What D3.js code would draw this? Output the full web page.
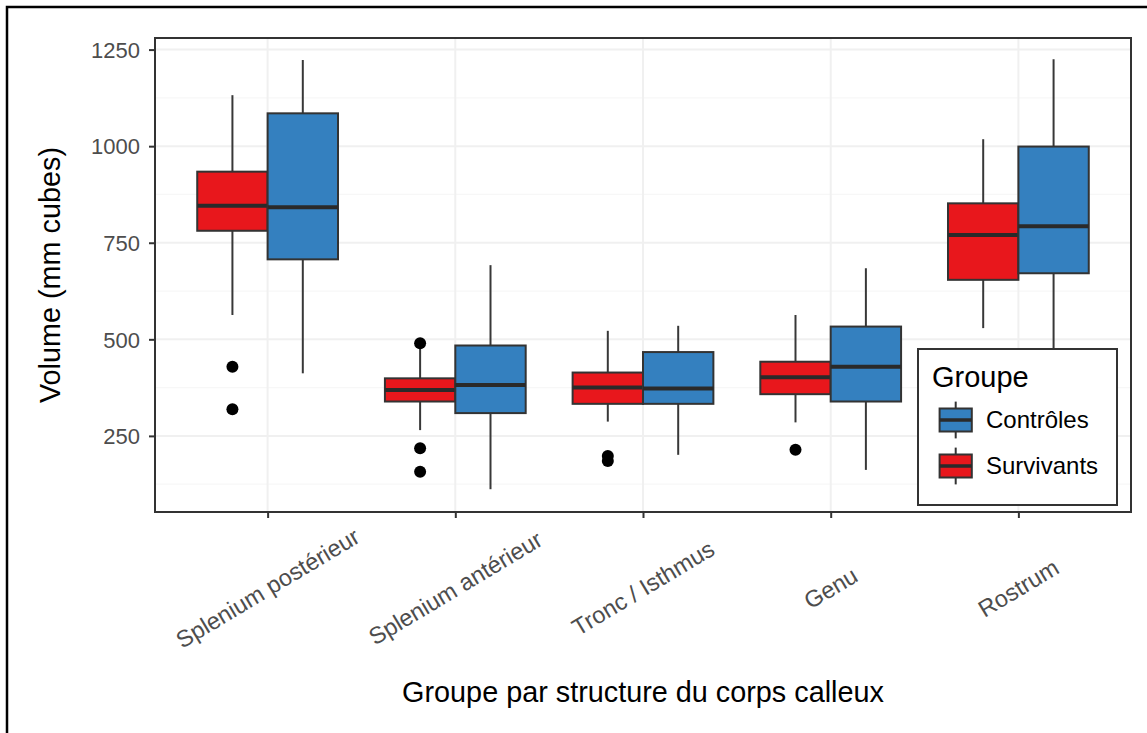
<!DOCTYPE html>
<html>
<head>
<meta charset="utf-8">
<script src="https://cdn.jsdelivr.net/npm/d3@7"></script>
<style>
  html, body { margin: 0; padding: 0; background: #ffffff; }
  svg { display: block; }
  text { font-family: "Liberation Sans", Arial, Helvetica, sans-serif; }
</style>
</head>
<body>
<svg id="chart" width="1147" height="733"></svg>
<script>
// Corpus callosum structures on the x axis
const categories = ["Splenium postérieur", "Splenium antérieur", "Tronc / Isthmus", "Genu", "Rostrum"];
const groups = ["Survivants", "Contrôles"];
const legendOrder = ["Contrôles", "Survivants"];

// Box statistics, Survivants group (mm³)
const survLow  = [563, 265, 287, 285, 529];
const survQ1   = [781, 339, 333, 358, 654];
const survMed  = [846, 369, 375, 402, 770];
const survQ3   = [934, 399, 414, 442, 852];
const survHigh = [1132, 478, 522, 563, 1018];
const survOut  = [[429, 319], [490, 218, 157], [198, 185], [214], []];

// Box statistics, Contrôles group (mm³)
const ctrlLow  = [412, 112, 201, 162, 380];
const ctrlQ1   = [707, 309, 333, 339, 671];
const ctrlMed  = [842, 382, 373, 429, 793];
const ctrlQ3   = [1085, 484, 467, 533, 999];
const ctrlHigh = [1223, 692, 535, 684, 1225];
const ctrlOut  = [[], [], [], [], []];

const yTicks = [250, 500, 750, 1000, 1250];
const yMinor = [125, 375, 625, 875, 1125];
const yDomain = [53, 1280];

const colors = { "Survivants": "#e8171c", "Contrôles": "#3480bf" };

const stats = {
  "Survivants": { low: survLow, q1: survQ1, med: survMed, q3: survQ3, high: survHigh, out: survOut },
  "Contrôles": { low: ctrlLow, q1: ctrlQ1, med: ctrlMed, q3: ctrlQ3, high: ctrlHigh, out: ctrlOut }
};

const boxes = [];
categories.forEach((c, i) => {
  groups.forEach(g => {
    const s = stats[g];
    boxes.push({ cat: c, group: g, low: s.low[i], q1: s.q1[i], med: s.med[i], q3: s.q3[i], high: s.high[i], out: s.out[i] });
  });
});

const svg = d3.select("#chart");
const panel = { left: 155, top: 38, right: 1131, bottom: 512 };

// outer frame
svg.append("rect")
  .attr("x", 7).attr("y", 7).attr("width", 1160).attr("height", 760)
  .attr("fill", "none").attr("stroke", "#000").attr("stroke-width", 2.5);

const x = d3.scalePoint().domain(categories).range([panel.left, panel.right]).padding(0.6);
const step = x.step();
const xg = d3.scaleBand().domain(groups).range([-0.375 * step, 0.375 * step]).padding(0);
const y = d3.scaleLinear().domain(yDomain).range([panel.bottom, panel.top]);

const g = svg.append("g");

// panel background
g.append("rect")
  .attr("x", panel.left).attr("y", panel.top)
  .attr("width", panel.right - panel.left).attr("height", panel.bottom - panel.top)
  .attr("fill", "#fff");

// grid lines
g.selectAll(".gminor").data(yMinor).join("line")
  .attr("x1", panel.left).attr("x2", panel.right)
  .attr("y1", d => y(d)).attr("y2", d => y(d))
  .attr("stroke", "#f7f7f7").attr("stroke-width", 1.2);
g.selectAll(".gmajor").data(yTicks).join("line")
  .attr("x1", panel.left).attr("x2", panel.right)
  .attr("y1", d => y(d)).attr("y2", d => y(d))
  .attr("stroke", "#f0f0f0").attr("stroke-width", 2);
g.selectAll(".gx").data(categories).join("line")
  .attr("x1", d => x(d)).attr("x2", d => x(d))
  .attr("y1", panel.top).attr("y2", panel.bottom)
  .attr("stroke", "#f0f0f0").attr("stroke-width", 2);

// boxplots
const bg = g.selectAll(".box").data(boxes).join("g")
  .attr("transform", d => `translate(${x(d.cat) + xg(d.group)},0)`);
const bw = xg.bandwidth();

bg.append("line")
  .attr("x1", bw / 2).attr("x2", bw / 2)
  .attr("y1", d => y(d.high)).attr("y2", d => y(d.q3))
  .attr("stroke", "#383838").attr("stroke-width", 2);
bg.append("line")
  .attr("x1", bw / 2).attr("x2", bw / 2)
  .attr("y1", d => y(d.q1)).attr("y2", d => y(d.low))
  .attr("stroke", "#383838").attr("stroke-width", 2);
bg.append("rect")
  .attr("x", 0).attr("width", bw)
  .attr("y", d => y(d.q3)).attr("height", d => y(d.q1) - y(d.q3))
  .attr("fill", d => colors[d.group])
  .attr("stroke", "#333").attr("stroke-width", 2);
bg.append("line")
  .attr("x1", 0).attr("x2", bw)
  .attr("y1", d => y(d.med)).attr("y2", d => y(d.med))
  .attr("stroke", "#2a2a2a").attr("stroke-width", 4);
bg.selectAll("circle").data(d => d.out).join("circle")
  .attr("cx", bw / 2).attr("cy", v => y(v)).attr("r", 6)
  .attr("fill", "#000");

// panel border
g.append("rect")
  .attr("x", panel.left).attr("y", panel.top)
  .attr("width", panel.right - panel.left).attr("height", panel.bottom - panel.top)
  .attr("fill", "none").attr("stroke", "#333").attr("stroke-width", 2);

// y axis
const yAxis = svg.append("g")
  .attr("transform", `translate(${panel.left},0)`)
  .call(d3.axisLeft(y).tickValues(yTicks).tickFormat(d3.format("d")).tickSize(6).tickPadding(9));
yAxis.select(".domain").remove();
yAxis.selectAll(".tick line").attr("stroke", "#333").attr("stroke-width", 2);
yAxis.selectAll(".tick text")
  .attr("fill", "#4d4d4d").style("font-size", "22px").attr("dy", "0.35em");

// x axis
const xAxis = svg.append("g")
  .attr("transform", `translate(0,${panel.bottom})`)
  .call(d3.axisBottom(x).tickSize(6).tickFormat(""));
xAxis.select(".domain").remove();
xAxis.selectAll(".tick line").attr("stroke", "#333").attr("stroke-width", 2);

svg.append("g").selectAll("text").data(categories).join("text")
  .attr("transform", d => `translate(${x(d)},588) rotate(-31)`)
  .attr("text-anchor", "middle").attr("dy", "0.35em")
  .attr("fill", "#4d4d4d").style("font-size", "23.5px")
  .text(d => d);

// axis titles
svg.append("text")
  .attr("x", (panel.left + panel.right) / 2).attr("y", 702)
  .attr("text-anchor", "middle").style("font-size", "28.8px").attr("fill", "#000")
  .text("Groupe par structure du corps calleux");
svg.append("text")
  .attr("transform", `translate(60,${(panel.top + panel.bottom) / 2}) rotate(-90)`)
  .attr("text-anchor", "middle").style("font-size", "28.8px").attr("fill", "#000")
  .text("Volume (mm cubes)");

// legend
const lg = svg.append("g");
lg.append("rect")
  .attr("x", 918).attr("y", 349).attr("width", 199).attr("height", 156)
  .attr("fill", "#fff").attr("stroke", "#333").attr("stroke-width", 2);
lg.append("text")
  .attr("x", 932).attr("y", 387)
  .style("font-size", "29px").attr("fill", "#000")
  .text("Groupe");

const keySize = 46;
const keys = lg.selectAll(".key").data(legendOrder).join("g")
  .attr("transform", (d, i) => `translate(935,${397 + i * keySize})`);
keys.append("line")
  .attr("x1", keySize * 0.45).attr("x2", keySize * 0.45)
  .attr("y1", keySize * 0.1).attr("y2", keySize * 0.9)
  .attr("stroke", "#333").attr("stroke-width", 2);
keys.append("rect")
  .attr("x", keySize * 0.1).attr("width", keySize * 0.7)
  .attr("y", keySize * 0.25).attr("height", keySize * 0.5)
  .attr("fill", d => colors[d]).attr("stroke", "#333").attr("stroke-width", 2);
keys.append("line")
  .attr("x1", keySize * 0.1).attr("x2", keySize * 0.8)
  .attr("y1", keySize * 0.5).attr("y2", keySize * 0.5)
  .attr("stroke", "#2a2a2a").attr("stroke-width", 3.5);
keys.append("text")
  .attr("x", 51).attr("y", keySize * 0.5).attr("dy", "0.35em")
  .style("font-size", "24px").attr("fill", "#000")
  .text(d => d);
</script>
</body>
</html>
